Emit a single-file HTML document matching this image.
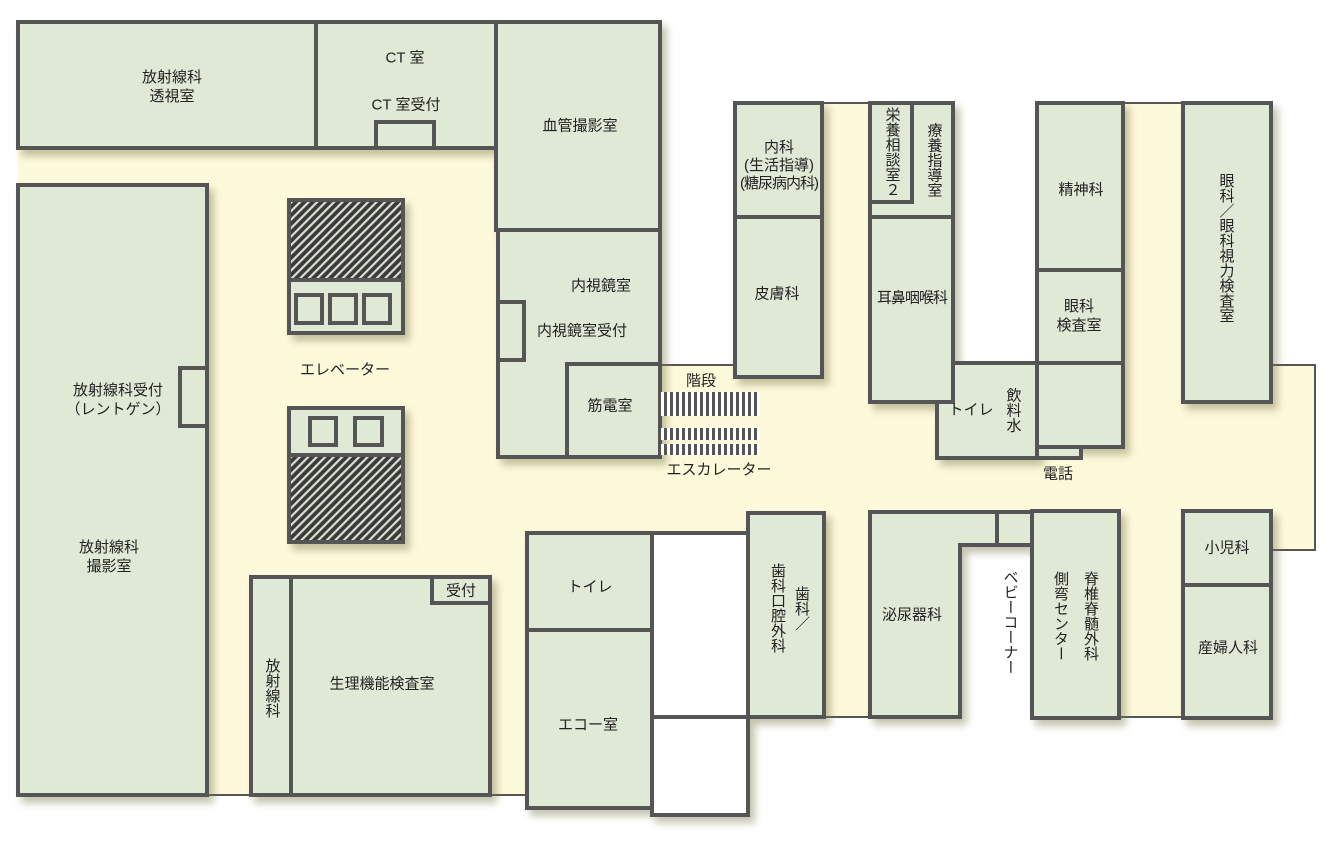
<!DOCTYPE html>
<html><head><meta charset="utf-8"><style>
html,body{margin:0;padding:0;background:#fff;}
#w{position:relative;width:1341px;height:845px;overflow:hidden;font-family:"Liberation Sans","Noto Sans CJK JP",sans-serif;color:#222;}
svg{position:absolute;left:0;top:0;}
.t{position:absolute;font-size:15px;line-height:19px;text-align:center;white-space:nowrap;transform:translate(-50%,-50%);}
.v{writing-mode:vertical-rl;line-height:17px;letter-spacing:0;}
</style></head><body><div id="w">
<svg width="1341" height="845" viewBox="0 0 1341 845">
<defs>
<pattern id="h" width="6" height="6" patternUnits="userSpaceOnUse" patternTransform="rotate(45)">
<rect width="6" height="6" fill="#3a3a3a"/><rect width="2.2" height="6" fill="#d8dfd0"/></pattern>
<pattern id="st" width="6" height="10" patternUnits="userSpaceOnUse"><rect width="6" height="10" fill="#555"/><rect x="1" width="3" height="10" fill="#fff"/></pattern>
<filter id="sh" x="-10%" y="-10%" width="130%" height="130%"><feDropShadow dx="5" dy="6" stdDeviation="4" flood-color="#7a7a50" flood-opacity="0.45"/></filter>
</defs>
<g fill="#fdf9db">
<rect x="18" y="148" width="642" height="647"/>
<rect x="660" y="365" width="655" height="185"/>
<rect x="822" y="103" width="48" height="270"/>
<rect x="1123" y="103" width="60" height="270"/>
<rect x="748" y="545" width="435" height="172"/>
</g>
<rect x="960" y="547" width="72" height="172" fill="#fff"/>
<g stroke="#555" stroke-width="2" fill="none">
<polyline points="1271,365 1315,365 1315,550 1271,550"/>
<line x1="822" y1="103" x2="870" y2="103"/>
<line x1="1123" y1="103" x2="1183" y2="103"/>
<line x1="660" y1="365" x2="735" y2="365"/>
<line x1="207" y1="795" x2="251" y2="795"/>
<line x1="490" y1="795" x2="527" y2="795"/>
<line x1="824" y1="717" x2="870" y2="717"/>
<line x1="1119" y1="717" x2="1183" y2="717"/>
</g>
<g fill="#e0e8d6" stroke="#555" stroke-width="4" filter="url(#sh)">
<rect x="18" y="22" width="298" height="126"/>
<rect x="316" y="22" width="180" height="126"/>
<rect x="496" y="22" width="164" height="208"/>
<rect x="498" y="230" width="162" height="227"/>
<rect x="18" y="185" width="189" height="610"/>
<rect x="251" y="577" width="239" height="218"/>
<rect x="735" y="103" width="87" height="274"/>
<rect x="870" y="103" width="83" height="299"/>
<rect x="1037" y="103" width="86" height="344"/>
<rect x="937" y="363" width="100" height="95"/>
<rect x="1183" y="103" width="88" height="299"/>
<rect x="1183" y="511" width="88" height="207"/>
<rect x="1032" y="511" width="87" height="207"/>
<polygon points="870,512 1032,512 1032,545 960,545 960,717 870,717"/>
<rect x="748" y="513" width="76" height="204"/>
<rect x="527" y="533" width="125" height="275"/>
<rect x="652" y="533" width="96" height="184" fill="#fff"/>
<rect x="652" y="717" width="96" height="98" fill="#fff"/>
<rect x="289" y="200" width="114" height="133"/>
<rect x="289" y="408" width="114" height="134"/>
</g>
<g fill="#e0e8d6" stroke="#555" stroke-width="4">
<rect x="376" y="122" width="58" height="26"/>
<rect x="498" y="302" width="26" height="58"/>
<rect x="567" y="364" width="93" height="93"/>
<rect x="180" y="368" width="27" height="58"/>
<rect x="251" y="577" width="40" height="218"/>
<rect x="432" y="577" width="58" height="26"/>
<rect x="735" y="217" width="87" height="160"/>
<rect x="870" y="103" width="42" height="99"/>
<rect x="870" y="217" width="83" height="185"/>
<rect x="1037" y="270" width="86" height="93"/>
<rect x="1037" y="363" width="86" height="84"/>
<rect x="1037" y="447" width="44" height="11"/>
<rect x="1183" y="585" width="88" height="133"/>
<rect x="527" y="630" width="125" height="178"/>
<line x1="997" y1="512" x2="997" y2="545"/>
<rect x="289" y="200" width="114" height="80" fill="url(#h)"/>
<rect x="289" y="455" width="114" height="87" fill="url(#h)"/>
<rect x="296" y="295" width="26" height="28"/>
<rect x="330" y="295" width="26" height="28"/>
<rect x="364" y="295" width="26" height="28"/>
<rect x="310" y="418" width="26" height="27"/>
<rect x="355" y="418" width="27" height="27"/>
</g>
<rect x="660" y="392" width="100" height="24" fill="url(#st)"/>
<rect x="660" y="428" width="100" height="12" fill="url(#st)"/>
<rect x="660" y="444" width="100" height="11" fill="url(#st)"/>
</svg>
<div class="t" style="left:172px;top:87px">放射線科<br>透視室</div>
<div class="t" style="left:405px;top:58px">CT 室</div>
<div class="t" style="left:406px;top:105px">CT 室受付</div>
<div class="t" style="left:580px;top:126px">血管撮影室</div>
<div class="t" style="left:601px;top:286px">内視鏡室</div>
<div class="t" style="left:582px;top:331px">内視鏡室受付</div>
<div class="t" style="left:610px;top:406px">筋電室</div>
<div class="t" style="left:345px;top:370px">エレベーター</div>
<div class="t" style="left:118px;top:400px">放射線科受付<br>（レントゲン）</div>
<div class="t" style="left:109px;top:557px">放射線科<br>撮影室</div>
<div class="t" style="left:382px;top:684px">生理機能検査室</div>
<div class="t" style="left:461px;top:591px">受付</div>
<div class="t v" style="left:272px;top:688px">放射線科</div>
<div class="t" style="left:701px;top:381px">階段</div>
<div class="t" style="left:719px;top:470px">エスカレーター</div>
<div class="t" style="left:779px;top:166px;line-height:18px">内科<br>(生活指導)<br><span style="letter-spacing:-1px">(糖尿病内科)</span></div>
<div class="t" style="left:777px;top:294px">皮膚科</div>
<div class="t v" style="left:892px;top:152px">栄養相談室２</div>
<div class="t v" style="left:934px;top:160px">療養指導室</div>
<div class="t" style="left:912px;top:298px;letter-spacing:-1px">耳鼻咽喉科</div>
<div class="t" style="left:971px;top:410px">トイレ</div>
<div class="t v" style="left:1013px;top:410px">飲料水</div>
<div class="t" style="left:1081px;top:190px">精神科</div>
<div class="t" style="left:1079px;top:316px">眼科<br>検査室</div>
<div class="t" style="left:1058px;top:474px">電話</div>
<div class="t v" style="left:1226px;top:248px">眼科／眼科視力検査室</div>
<div class="t" style="left:1227px;top:548px">小児科</div>
<div class="t" style="left:1228px;top:648px">産婦人科</div>
<div class="t v" style="left:1075px;top:616px;line-height:30px">脊椎脊髄外科<br>側弯センター</div>
<div class="t" style="left:912px;top:615px">泌尿器科</div>
<div class="t v" style="left:1010px;top:622px">ベビーコーナー</div>
<div class="t v" style="left:789px;top:608px;line-height:24px">歯科／<br>歯科口腔外科</div>
<div class="t" style="left:590px;top:587px">トイレ</div>
<div class="t" style="left:588px;top:725px">エコー室</div>
</div></body></html>
